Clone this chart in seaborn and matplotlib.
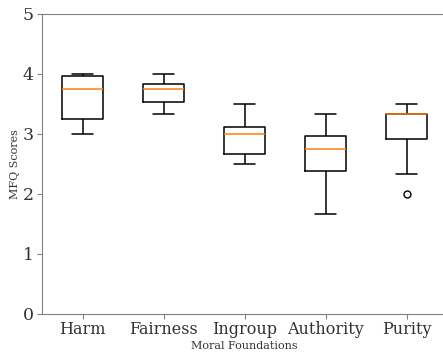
import matplotlib
matplotlib.use("Agg")
import matplotlib.pyplot as plt
import seaborn as sns
import pandas as pd

foundations = ["Harm", "Fairness", "Ingroup", "Authority", "Purity"]
harm = [3.0, 3.25, 3.75, 3.96, 4.0]
fairness = [3.33, 3.54, 3.75, 3.84, 4.0]
ingroup = [2.5, 2.67, 3.0, 3.12, 3.5]
authority = [1.67, 2.38, 2.75, 2.96, 3.33]
purity = [2.0, 2.33, 2.92, 3.0, 3.33, 3.33, 3.33, 3.5, 3.5]

series = [harm, fairness, ingroup, authority, purity]
rows = []
for name, vals in zip(foundations, series):
    for v in vals:
        rows.append({"Moral Foundations": name, "MFQ Scores": v})
df = pd.DataFrame(rows)

sns.set_style("white")
plt.rcParams["font.family"] = ["DejaVu Serif"]

fig = plt.figure(figsize=(4.43, 3.52), dpi=100)
ax = fig.add_axes([42/443, 38/352, 405/443, 300/352])

sns.boxplot(data=df, x="Moral Foundations", y="MFQ Scores", order=foundations,
            width=0.5, fill=False, color="black", linewidth=1.1,
            medianprops={"color": "#ff7f0e", "linewidth": 1.1},
            flierprops={"marker": "o", "markerfacecolor": "none",
                        "markeredgecolor": "black", "markersize": 5},
            ax=ax)

ax.set_ylim(0, 5)
ax.set_yticks([0, 1, 2, 3, 4, 5])
for s in ax.spines.values():
    s.set_color("0.5")
    s.set_visible(True)
ax.spines["right"].set_visible(False)
ax.tick_params(axis="both", which="both", direction="out", length=3.5,
               color="0.5", labelcolor="0.2", left=True, bottom=True)
ax.tick_params(axis="x", labelsize=11.5, pad=1.5)
ax.tick_params(axis="y", labelsize=12.5, pad=2.5)
ax.set_xlabel("Moral Foundations", fontsize=8, color="0.2", labelpad=2)
ax.set_ylabel("MFQ Scores", fontsize=8, color="0.2", labelpad=2)

fig.savefig("out.png", dpi=100)
